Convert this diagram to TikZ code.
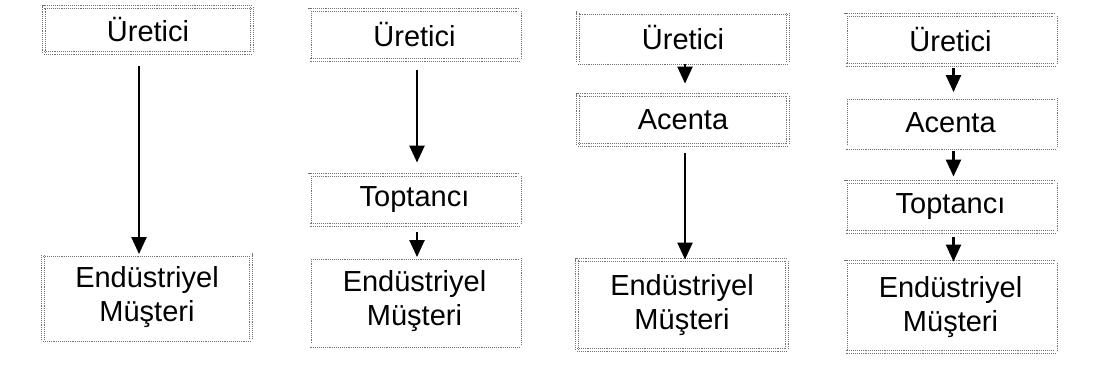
\documentclass[tikz,border=0pt]{standalone}
\usepackage{fontspec}
\setmainfont{Liberation Sans}
\usetikzlibrary{arrows.meta}
\begin{document}
\begin{tikzpicture}[x=1pt,y=-1pt,
  stage/.style={draw=black!55, densely dotted, line width=0.9pt,
    double=white, double distance=2.2pt, fill=white,
    minimum width=210pt, minimum height=50pt, inner sep=0pt,
    align=center, font=\fontsize{29}{34}\selectfont},
  tall/.style={stage, minimum height=88pt},
  flow/.style={-{Triangle[width=15pt,length=17pt]}, line width=2.4pt, black}]
\useasboundingbox (0,0) rectangle (1106,378);

% column 1: producer -> industrial customer
\node[stage, minimum width=208pt, minimum height=46pt] (u1) at (148,30) {Üretici};
\node[tall, minimum width=208pt, minimum height=85pt] (e1) at (147,297) {Endüstriyel\\Müşteri};
\draw[flow, shorten <=13pt] ([xshift=-9pt]u1.south) -- ([xshift=-8pt]e1.north);

% column 2: producer -> wholesaler -> industrial customer
\node[stage] (u2) at (414.5,35) {Üretici};
\node[stage] (t2) at (414.5,200) {Toptancı};
\node[tall] (e2) at (414.5,301.5) {Endüstriyel\\Müşteri};
\draw[flow, shorten <=10pt, shorten >=12pt] ([xshift=2.5pt]u2.south) -- ([xshift=2.5pt]t2.north);
\draw[flow, shorten <=7pt] ([xshift=2.5pt]t2.south) -- ([xshift=2.5pt]e2.north);

% column 3: producer -> agent -> industrial customer
\node[stage] (u3) at (683,37.5) {Üretici};
\node[stage] (a3) at (683,120) {Acenta};
\node[tall, minimum height=90pt] (e3) at (682,305) {Endüstriyel\\Müşteri};
\draw[flow, shorten <=1pt, shorten >=11pt] ([xshift=2pt]u3.south) -- ([xshift=2pt]a3.north);
\draw[flow, shorten <=8pt] ([xshift=2pt]a3.south) -- ([xshift=3pt]e3.north);

% column 4: producer -> agent -> wholesaler -> industrial customer
\node[stage] (u4) at (950.5,40) {Üretici};
\node[stage] (a4) at (950.5,122.5) {Acenta};
\node[stage] (t4) at (950.5,207) {Toptancı};
\node[tall, minimum height=90pt] (e4) at (950.5,307) {Endüstriyel\\Müşteri};
\draw[flow, shorten <=3pt, shorten >=5pt] ([xshift=3pt]u4.south) -- ([xshift=3pt]a4.north);
\draw[flow, shorten <=3pt, shorten >=5pt] ([xshift=3pt]a4.south) -- ([xshift=3pt]t4.north);
\draw[flow, shorten <=5pt] ([xshift=3pt]t4.south) -- ([xshift=3pt]e4.north);
\end{tikzpicture}
\end{document}
